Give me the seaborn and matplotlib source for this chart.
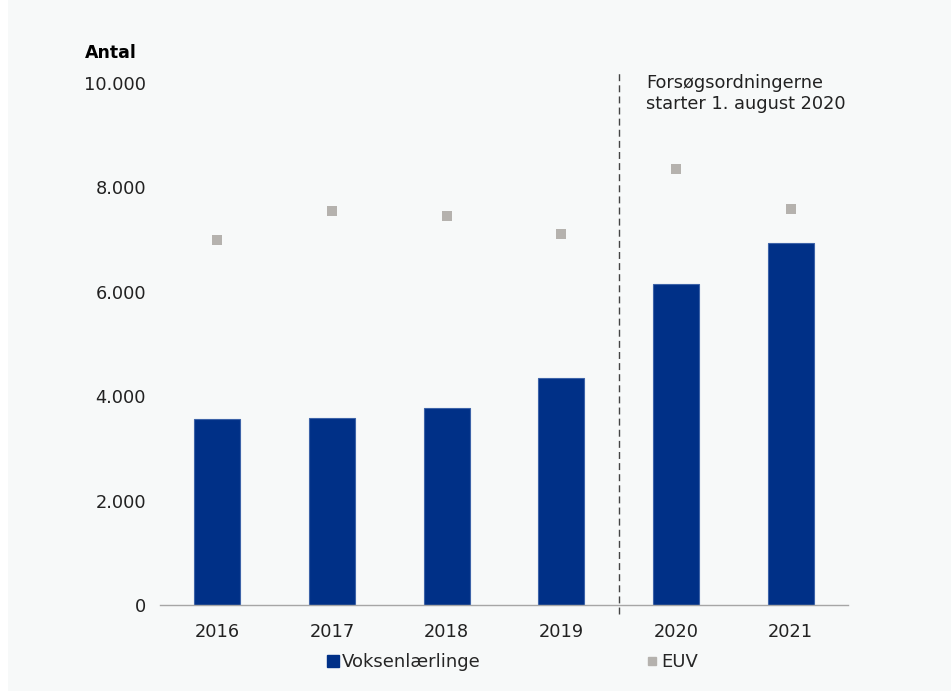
import matplotlib
matplotlib.use("Agg")
import matplotlib.pyplot as plt
import matplotlib.patches as mpatches
from matplotlib.lines import Line2D
from matplotlib.ticker import FixedLocator, FuncFormatter
import seaborn as sns
import pandas as pd

# Data
years = ["2016", "2017", "2018", "2019", "2020", "2021"]
voksenlaerlinge = [3560, 3580, 3770, 4340, 6150, 6930]
euv = [6990, 7550, 7460, 7110, 8360, 7580]

bar_color = "#003087"
euv_color = "#b5b2ae"
bg = "#f7f9f9"

sns.set_style("white")
plt.rcParams["font.family"] = ["DejaVu Sans"]

df = pd.DataFrame({"År": years, "Voksenlærlinge": voksenlaerlinge, "EUV": euv})

fig = plt.figure(figsize=(9.51, 6.91), dpi=100, facecolor="white")
# grey panel behind the chart (white strip on the far left)
fig.patches.append(mpatches.Rectangle((8 / 951, 0), 1, 1, transform=fig.transFigure,
                                      facecolor=bg, edgecolor="none", zorder=-10))

ax = fig.add_axes([160 / 951, 1 - 605 / 691, 688 / 951, 522 / 691])
ax.set_facecolor(bg)

sns.barplot(data=df, x="År", y="Voksenlærlinge", color=bar_color, width=0.4,
            saturation=1, edgecolor="#3d63a8", linewidth=0.8, ax=ax, zorder=2)
sns.stripplot(data=df, x="År", y="EUV", color=euv_color, marker="s", size=7.5,
              jitter=False, ax=ax, zorder=3)

ax.set_xlim(-0.5, 5.5)
ax.set_ylim(0, 10000)
ax.set_yticks(range(0, 10001, 2000))
ax.yaxis.set_major_formatter(FuncFormatter(lambda v, p: f"{int(v):,}".replace(",", ".")))
ax.set_xlabel("")
ax.set_ylabel("")

for s in ["top", "right", "left"]:
    ax.spines[s].set_visible(False)
ax.spines["bottom"].set_color("#a6a6a6")
ax.spines["bottom"].set_linewidth(1)

ax.tick_params(axis="y", length=0, pad=10, labelsize=12.8, labelcolor="#222222")
ax.tick_params(axis="x", which="major", length=0, pad=13, labelsize=12.8, labelcolor="#222222")
ax.xaxis.set_minor_locator(FixedLocator([-0.5, 0.5, 1.5, 2.5, 3.5, 4.5, 5.5]))
ax.tick_params(axis="x", which="minor", length=7, width=1, color="#a6a6a6", direction="out")

# reform marker line
ax.axvline(3.5, ymin=-0.018, ymax=1.025, color="#444444", lw=1, ls=(0, (5, 3)),
           clip_on=False, zorder=4)
ax.text(3.74, 9800, "Forsøgsordningerne\nstarter 1. august 2020", fontsize=12.8,
        color="#222222", va="center", ha="left", linespacing=1.25)

fig.text(85 / 951, 1 - 53 / 691, "Antal", fontsize=12.5, fontweight="bold",
         ha="left", va="center", color="black")

handles = [
    Line2D([], [], marker="s", ls="", color=bar_color, markersize=8),
    Line2D([], [], marker="s", ls="", color=euv_color, markersize=6),
]
fig.legend(handles, ["Voksenlærlinge", "EUV"], loc="center",
           bbox_to_anchor=(513 / 951, 1 - 662 / 691), ncol=2, frameon=False,
           fontsize=13, handlelength=0.6, handletextpad=0.2, columnspacing=9.2)

fig.savefig("out.png", dpi=100, facecolor=fig.get_facecolor())
